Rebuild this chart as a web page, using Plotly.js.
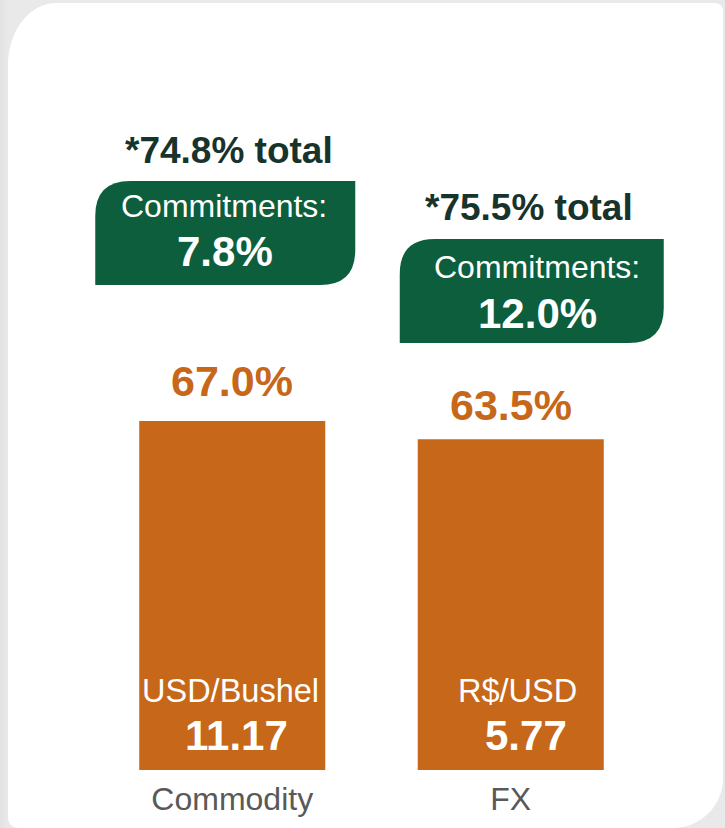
<!DOCTYPE html>
<html>
<head>
<meta charset="utf-8">
<script src="https://cdn.plot.ly/plotly-3.0.1.min.js"></script>
<style>
  html, body { margin: 0; padding: 0; }
  body {
    width: 725px; height: 828px; overflow: hidden; position: relative;
    background: linear-gradient(to right, #e2e2e2 0px, #e9e9e9 8px, #e9e9e9 100%);
  }
  #card {
    position: absolute; left: 8px; top: 3px; width: 715px; height: 825px;
    background: #ffffff;
    border-radius: 48px 8px 50px 10px / 62px 8px 50px 10px;
  }
  #chart { position: absolute; left: 0; top: 0; width: 725px; height: 828px; }
</style>
</head>
<body>
<div id="card"></div>
<div id="chart"></div>
<script>
// chart values
const categories = ['Commodity', 'FX'];
const hedged = [67.0, 63.5];          // bar values (%)
const commitments = [7.8, 12.0];      // green boxes (%)
const totals = [74.8, 75.5];          // "*x% total"
const units = ['USD/Bushel', 'R$/USD'];
const prices = ['11.17', '5.77'];

const ORANGE = '#C6671A';
const GREEN = '#0C5E3C';
const DARK = '#17332B';
const FONT = 'Liberation Sans, Arial, sans-serif';

// per-category pixel offsets for the decorations (relative to bar centre / baseline)
const boxGeom = [
    { x0: -137, x1: 123, yb: 485, yt: 589 },
    { x0: -111, x1: 153, yb: 427, yt: 531 }
];
const totalPos = [{ dx: -3, dy: 620 }, { dx: 18, dy: 563 }];
const commitLabelPos = [{ dx: -8, dy: 564 }, { dx: 26, dy: 503 }];
const commitValuePos = [{ dx: -7, dy: 519 }, { dx: 27, dy: 457 }];
const valueShift = [40, 34];
const unitPos = [{ dx: -2, dy: 79 }, { dx: 7, dy: 79 }];
const pricePos = [{ dx: 4, dy: 35 }, { dx: 15, dy: 35 }];

function roundedBox(g) {
    const r = 35;
    return `M${g.x0},${g.yb} L${g.x0},${g.yt - r} Q${g.x0},${g.yt} ${g.x0 + r},${g.yt} ` +
           `L${g.x1},${g.yt} L${g.x1},${g.yb + r} Q${g.x1},${g.yb} ${g.x1 - r},${g.yb} Z`;
}

const trace = {
    type: 'bar',
    x: categories.map((c, i) => i),
    y: hedged,
    marker: { color: ORANGE },
    hoverinfo: 'skip'
};

const annotations = [];
const shapes = [];

categories.forEach((cat, i) => {
    annotations.push({
        x: i, y: hedged[i], xref: 'x', yref: 'y', showarrow: false,
        yshift: valueShift[i], yanchor: 'middle',
        text: hedged[i].toFixed(1) + '%',
        font: { family: FONT, size: 43, color: ORANGE, weight: 700 }
    });
    annotations.push({
        x: i, y: 0, xref: 'x', yref: 'y', showarrow: false,
        xshift: totalPos[i].dx, yshift: totalPos[i].dy, yanchor: 'middle',
        text: '*' + totals[i].toFixed(1) + '% total',
        font: { family: FONT, size: 37, color: DARK, weight: 700 }
    });
    annotations.push({
        x: i, y: 0, xref: 'x', yref: 'y', showarrow: false,
        xshift: commitLabelPos[i].dx, yshift: commitLabelPos[i].dy, yanchor: 'middle',
        text: 'Commitments:',
        font: { family: FONT, size: 32, color: '#ffffff' }
    });
    annotations.push({
        x: i, y: 0, xref: 'x', yref: 'y', showarrow: false,
        xshift: commitValuePos[i].dx, yshift: commitValuePos[i].dy, yanchor: 'middle',
        text: commitments[i].toFixed(1) + '%',
        font: { family: FONT, size: 42, color: '#ffffff', weight: 700 }
    });
    annotations.push({
        x: i, y: 0, xref: 'x', yref: 'y', showarrow: false,
        xshift: unitPos[i].dx, yshift: unitPos[i].dy, yanchor: 'middle',
        text: units[i],
        font: { family: FONT, size: 32.5, color: '#ffffff' }
    });
    annotations.push({
        x: i, y: 0, xref: 'x', yref: 'y', showarrow: false,
        xshift: pricePos[i].dx, yshift: pricePos[i].dy, yanchor: 'middle',
        text: prices[i],
        font: { family: FONT, size: 42, color: '#ffffff', weight: 700 }
    });
    shapes.push({
        type: 'path', xref: 'x', yref: 'y',
        xsizemode: 'pixel', ysizemode: 'pixel', xanchor: i, yanchor: 0,
        path: roundedBox(boxGeom[i]),
        fillcolor: GREEN, line: { width: 0 }, layer: 'below'
    });
});

// plot area runs past the FX bar so the green box is not clipped
const catPx = 278.5;
const layout = {
    width: 725,
    height: 828,
    margin: { t: 0, r: 20, b: 58, l: 93 },
    paper_bgcolor: 'rgba(0,0,0,0)',
    plot_bgcolor: 'rgba(0,0,0,0)',
    bargap: 0.332,
    showlegend: false,
    xaxis: {
        range: [-0.5, 1.5 + 55 / catPx],
        tickvals: [0, 1],
        ticktext: categories,
        tickfont: { family: FONT, size: 32, color: '#595959' },
        ticklabelstandoff: 7,
        showline: false, showgrid: false, zeroline: false, ticks: ''
    },
    yaxis: {
        range: [0, 147.8],
        visible: false, showgrid: false, zeroline: false
    },
    annotations: annotations,
    shapes: shapes
};

Plotly.newPlot('chart', [trace], layout, { staticPlot: true, displayModeBar: false });
</script>
</body>
</html>
